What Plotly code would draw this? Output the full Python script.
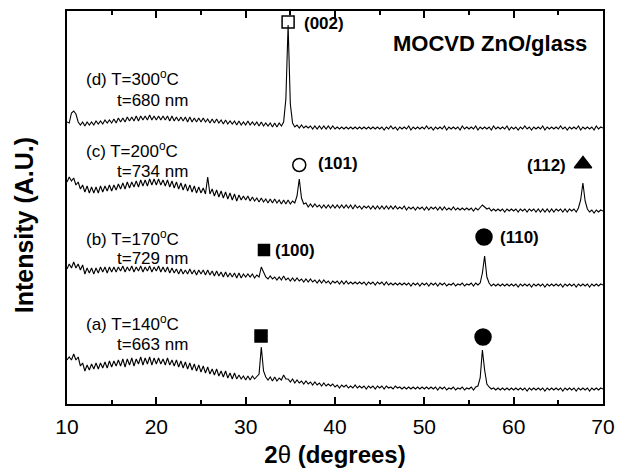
import numpy as np
import plotly.graph_objects as go

# 2-theta grid (degrees), 0.25 step from 10 to 70
two_theta = np.round(np.arange(10.0, 70.0001, 0.25), 2)

# (a) T=140C, t=663 nm  (stacked intensity, a.u.)
int_a = [
    44,47,44,50,44,47,38,41,33,39,34,40,35,41,35,41,36,42,36,43,
    37,43,38,44,38,45,37,45,39,46,38,45,40,47,39,46,40,47,39,46,
    40,46,40,45,39,46,39,44,38,44,37,43,36,42,35,41,34,40,33,39,
    32,38,31,37,30,35,29,35,28,33,27,33,26,31,25,31,25,29,25,28,
    24,28,24,28,25,27,30,57,33,27,24,27,23,27,23,26,24,29,25,25,
    22,25,21,24,21,23,20,23,20,22,19,22,19,21,18,21,18,20,18,20,
    17,19,16,19,17,19,16,18,16,19,16,18,16,18,15,18,16,18,15,18,
    16,18,15,18,16,17,15,18,16,17,15,17,15,17,15,17,15,17,15,17,
    15,17,15,17,15,17,14,17,15,17,14,16,15,17,14,16,15,17,14,16,
    15,17,14,17,18,26,54,34,20,17,15,16,14,16,14,16,14,16,14,16,
    14,16,14,16,14,16,13,16,14,16,14,16,14,16,13,16,14,16,14,16,
    14,16,13,16,14,16,14,16,13,16,14,16,14,16,13,16,14,16,14,16,
    15]

# (b) T=170C, t=729 nm
int_b = [
    135,140,136,142,136,140,134,139,130,136,131,136,130,136,131,137,132,137,131,137,
    132,137,132,137,133,138,132,137,133,138,132,137,133,138,132,137,133,138,132,137,
    133,138,132,137,132,137,131,136,131,135,130,135,130,134,130,135,130,134,129,134,
    130,134,129,134,129,133,128,133,128,132,127,132,127,131,127,131,126,131,126,130,
    127,130,127,130,126,129,127,137,132,127,125,128,125,127,124,127,124,128,124,126,
    123,126,123,126,123,125,122,125,122,125,122,124,121,124,121,124,121,123,120,123,
    121,123,120,123,120,123,120,122,120,122,120,122,120,122,119,122,120,122,119,122,
    120,122,119,122,119,121,119,121,119,121,119,121,119,121,118,121,119,121,118,121,
    119,121,118,121,119,121,118,121,119,121,118,120,119,121,118,120,119,121,118,120,
    119,121,118,121,119,121,131,148,127,121,118,120,118,120,118,120,118,120,118,120,
    118,120,117,120,118,120,118,120,117,120,118,120,118,120,117,120,118,120,118,120,
    118,120,117,120,118,120,118,120,117,120,118,120,118,120,117,120,118,120,118,120,
    119]

# (c) T=200C, t=734 nm
int_c = [
    222,227,223,226,219,222,215,219,212,218,211,217,211,217,211,218,212,218,213,219,
    213,219,214,220,215,221,215,222,216,222,217,223,217,224,218,224,218,225,219,225,
    219,225,219,224,218,224,217,223,216,222,215,221,214,220,213,219,212,218,211,217,
    211,216,210,227,210,215,208,214,207,213,206,212,205,211,204,210,203,209,204,208,
    204,208,203,207,203,206,202,206,202,205,201,205,201,205,201,204,200,204,200,204,
    200,203,201,208,225,206,200,201,197,200,197,200,197,199,196,199,196,199,196,199,
    196,199,196,199,196,199,196,199,195,199,196,198,195,198,196,198,195,198,195,198,
    195,198,195,198,195,198,195,198,195,197,195,198,194,197,195,197,194,197,195,197,
    194,197,194,197,195,197,194,197,194,197,194,196,194,197,194,196,194,196,194,196,
    194,196,193,196,194,197,199,197,195,196,193,195,193,195,193,195,192,195,193,195,
    193,195,192,195,193,195,192,195,193,195,192,195,192,195,192,195,192,195,192,195,
    193,195,192,195,192,195,193,195,192,196,204,221,203,195,192,194,191,194,192,194,
    193]

# (d) T=300C, t=680 nm
int_d = [
    282,281,291,293,290,282,279,282,278,282,279,282,279,283,280,283,280,284,281,284,
    281,285,281,286,282,286,282,287,283,287,283,288,283,288,284,288,284,289,284,288,
    284,288,284,288,284,288,283,288,283,287,283,287,283,287,282,287,282,286,282,286,
    282,286,282,285,281,285,281,285,281,284,280,284,280,283,280,283,279,283,279,282,
    279,283,279,282,279,282,278,282,278,281,278,281,277,281,277,281,278,282,305,379,
    300,281,277,279,276,279,276,278,276,278,275,278,275,278,275,278,275,278,275,278,
    275,277,275,277,275,277,275,277,275,277,275,277,275,277,275,277,275,277,275,277,
    275,277,274,277,275,278,275,277,274,277,275,277,275,278,274,277,275,277,275,277,
    275,278,275,277,274,277,275,277,275,278,274,277,275,277,275,277,274,278,275,277,
    275,277,275,278,274,277,275,277,275,277,274,278,275,277,275,277,275,278,274,277,
    275,277,274,277,275,278,275,277,274,277,275,277,275,278,274,277,275,277,275,277,
    275,278,275,277,274,277,275,277,275,278,274,277,275,277,275,277,274,278,275,277,
    276]

# peak identification markers
peak_x = [34.75, 36.0, 67.76, 32.05, 56.68, 31.72, 56.57]
peak_y = [382, 239, 240, 154, 167, 68, 67]
peak_symbol = ["square-open", "circle-open", "triangle-up", "square", "circle", "square", "circle"]
peak_size = [12, 13, 15, 11, 16, 12, 16]

# hkl labels: text, x, y, anchor
hkl_text = ["(002)", "(101)", "(112)", "(100)", "(110)"]
hkl_x = [36.3, 37.85, 66.1, 33.05, 58.25]
hkl_y = [381, 241, 239, 154, 167]
hkl_anchor = ["left", "left", "right", "left", "left"]

# sample labels
samp_line1 = ["(d) T=300<sup>o</sup>C", "(c) T=200<sup>o</sup>C", "(b) T=170<sup>o</sup>C", "(a) T=140<sup>o</sup>C"]
samp_line2 = ["t=680 nm", "t=734 nm", "t=729 nm", "t=663 nm"]
samp_y1 = [326, 254, 166, 81]
samp_y2 = [304, 233, 146, 60]

FONT = "Arial, Liberation Sans, sans-serif"

fig = go.Figure()
for ys in [int_a, int_b, int_c, int_d]:
    fig.add_trace(go.Scatter(x=two_theta, y=ys, mode="lines",
                             line=dict(color="black", width=1.1), showlegend=False,
                             hoverinfo="skip"))

for px, py, sym, sz in zip(peak_x, peak_y, peak_symbol, peak_size):
    fig.add_trace(go.Scatter(x=[px], y=[py], mode="markers", showlegend=False,
                             marker=dict(symbol=sym, size=sz, color="black",
                                         line=dict(color="black", width=1.5)),
                             hoverinfo="skip"))

ann = []
for t, x, y, a in zip(hkl_text, hkl_x, hkl_y, hkl_anchor):
    ann.append(dict(text="<b>%s</b>" % t, x=x, y=y, xref="x", yref="y", xanchor=a,
                    yanchor="middle", showarrow=False, font=dict(family=FONT, size=17, color="black")))
for l1, l2, y1, y2 in zip(samp_line1, samp_line2, samp_y1, samp_y2):
    ann.append(dict(text=l1, x=11.9, y=y1, xref="x", yref="y", xanchor="left", yanchor="middle",
                    showarrow=False, font=dict(family=FONT, size=17, color="black")))
    ann.append(dict(text=l2, x=15.4, y=y2, xref="x", yref="y", xanchor="left", yanchor="middle",
                    showarrow=False, font=dict(family=FONT, size=17, color="black")))
ann.append(dict(text="<b>MOCVD ZnO/glass</b>", x=68.43, y=361, xref="x", yref="y", xanchor="right",
                yanchor="middle", showarrow=False, font=dict(family=FONT, size=22, color="black")))
ann.append(dict(text="<b>Intensity (A.U.)</b>", x=-0.08, y=0.455, xref="paper", yref="paper",
                xanchor="center", yanchor="middle", textangle=-90, showarrow=False,
                font=dict(family=FONT, size=25, color="black")))

fig.update_layout(
    width=627, height=468,
    margin=dict(l=67, r=24, t=11, b=64),
    paper_bgcolor="white", plot_bgcolor="white",
    annotations=ann,
    font=dict(family=FONT, color="black"),
    xaxis=dict(range=[10, 70], tickvals=[10, 20, 30, 40, 50, 60, 70],
               ticks="inside", ticklen=7, tickwidth=1.5, tickcolor="black",
               minor=dict(dtick=5, ticks="inside", ticklen=4, tickwidth=1.5, tickcolor="black"),
               showline=True, linecolor="black", linewidth=1.5, mirror="ticks",
               showgrid=False, zeroline=False, ticklabelstandoff=3, automargin=False,
               tickfont=dict(family=FONT, size=21, color="black"),
               title=dict(text="<b>2</b>θ<b> (degrees)</b>", standoff=13,
                          font=dict(family=FONT, size=24, color="black"))),
    yaxis=dict(range=[0, 393], showticklabels=False, ticks="", showgrid=False,
               zeroline=False, showline=True, linecolor="black", linewidth=1.5, mirror=True,
               automargin=False),
)

fig.write_html("out.html")
